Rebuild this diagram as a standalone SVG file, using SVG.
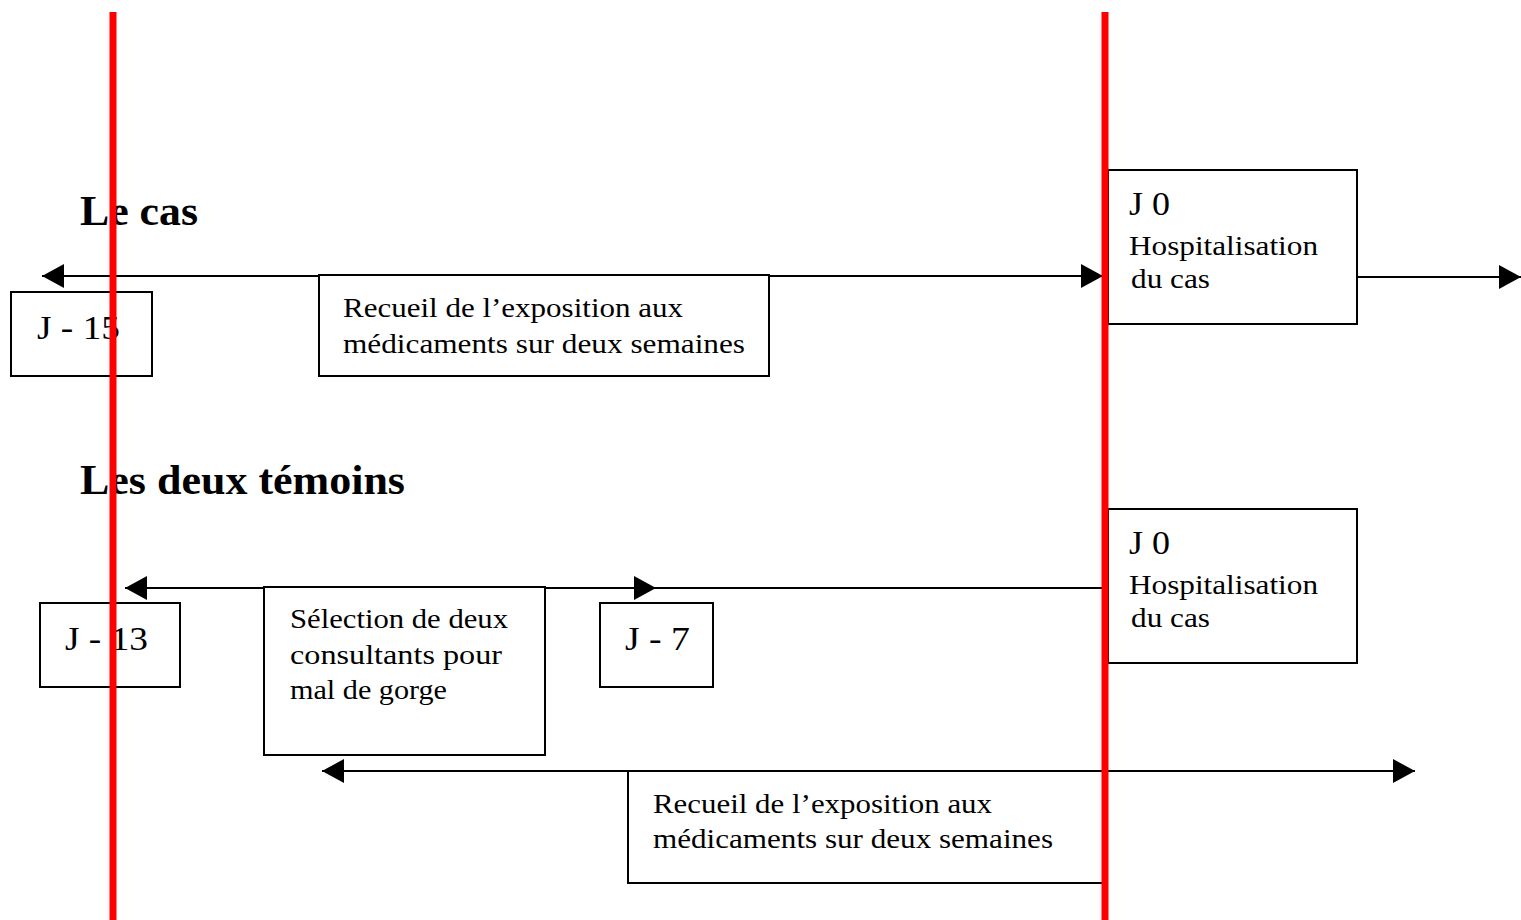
<svg xmlns="http://www.w3.org/2000/svg" width="1521" height="920" viewBox="0 0 1521 920">
<style>
.box{fill:#fff;stroke:#000;stroke-width:2}
.ln{stroke:#000;stroke-width:2;fill:none}
.t{font-family:"Liberation Serif","Times New Roman",serif;font-size:27px;fill:#000}
.j{font-family:"Liberation Serif","Times New Roman",serif;font-size:33px;fill:#000}
.h{font-family:"Liberation Serif","Times New Roman",serif;font-size:42px;font-weight:bold;fill:#000}
.red{stroke:#ff0000;stroke-width:7}
</style>
<defs>
<marker id="arr" markerUnits="userSpaceOnUse" markerWidth="23" markerHeight="24" refX="22" refY="12" orient="auto-start-reverse">
<path d="M0,0 L22,12 L0,24 z" fill="#000"/>
</marker>
</defs>
<rect width="1521" height="920" fill="#fff"/>
<text class="h" x="80" y="225" textLength="118" lengthAdjust="spacingAndGlyphs">Le cas</text>
<text class="h" x="80" y="494" textLength="325" lengthAdjust="spacingAndGlyphs">Les deux témoins</text>
<g id="connectors">
<line class="ln" x1="42" y1="276" x2="1103" y2="276" marker-start="url(#arr)" marker-end="url(#arr)"/>
<line class="ln" x1="1357" y1="277" x2="1521" y2="277" marker-end="url(#arr)"/>
<line class="ln" x1="125" y1="588" x2="656" y2="588" marker-start="url(#arr)" marker-end="url(#arr)"/>
<line class="ln" x1="656" y1="588" x2="1108" y2="588"/>
<line class="ln" x1="322" y1="771" x2="1415" y2="771" marker-start="url(#arr)" marker-end="url(#arr)"/>
</g>
<g id="j15">
<rect class="box" x="11" y="292" width="141" height="84"/>
<text class="j" x="37" y="339" textLength="83" lengthAdjust="spacingAndGlyphs">J - 15</text>
</g>
<g id="recueil1">
<rect class="box" x="319" y="275" width="450" height="101"/>
<text class="t" x="343" y="317" textLength="340" lengthAdjust="spacingAndGlyphs">Recueil de l’exposition aux</text>
<text class="t" x="343" y="353" textLength="402" lengthAdjust="spacingAndGlyphs">médicaments sur deux semaines</text>
</g>
<g id="j0a">
<rect class="box" x="1108" y="170" width="249" height="154"/>
<text class="j" x="1129" y="215" textLength="41" lengthAdjust="spacingAndGlyphs">J 0</text>
<text class="t" x="1129" y="255" textLength="189" lengthAdjust="spacingAndGlyphs">Hospitalisation</text>
<text class="t" x="1131" y="288" textLength="79" lengthAdjust="spacingAndGlyphs">du cas</text>
</g>
<g id="j13">
<rect class="box" x="40" y="603" width="140" height="84"/>
<text class="j" x="65" y="650" textLength="83" lengthAdjust="spacingAndGlyphs">J - 13</text>
</g>
<g id="selection">
<rect class="box" x="264" y="587" width="281" height="168"/>
<text class="t" x="290" y="628" textLength="218" lengthAdjust="spacingAndGlyphs">Sélection de deux</text>
<text class="t" x="290" y="664" textLength="212" lengthAdjust="spacingAndGlyphs">consultants pour</text>
<text class="t" x="290" y="699" textLength="157" lengthAdjust="spacingAndGlyphs">mal de gorge</text>
</g>
<g id="j7">
<rect class="box" x="600" y="603" width="113" height="84"/>
<text class="j" x="625" y="650" textLength="65" lengthAdjust="spacingAndGlyphs">J - 7</text>
</g>
<g id="j0b">
<rect class="box" x="1108" y="509" width="249" height="154"/>
<text class="j" x="1129" y="554" textLength="41" lengthAdjust="spacingAndGlyphs">J 0</text>
<text class="t" x="1129" y="594" textLength="189" lengthAdjust="spacingAndGlyphs">Hospitalisation</text>
<text class="t" x="1131" y="627" textLength="79" lengthAdjust="spacingAndGlyphs">du cas</text>
</g>
<g id="recueil2">
<rect class="box" x="628" y="771" width="475" height="112"/>
<text class="t" x="653" y="813" textLength="339" lengthAdjust="spacingAndGlyphs">Recueil de l’exposition aux</text>
<text class="t" x="653" y="848" textLength="400" lengthAdjust="spacingAndGlyphs">médicaments sur deux semaines</text>
</g>
<g id="redlines">
<line class="red" x1="113" y1="12" x2="113" y2="920"/>
<line class="red" x1="1105" y1="12" x2="1105" y2="920"/>
</g>
</svg>
